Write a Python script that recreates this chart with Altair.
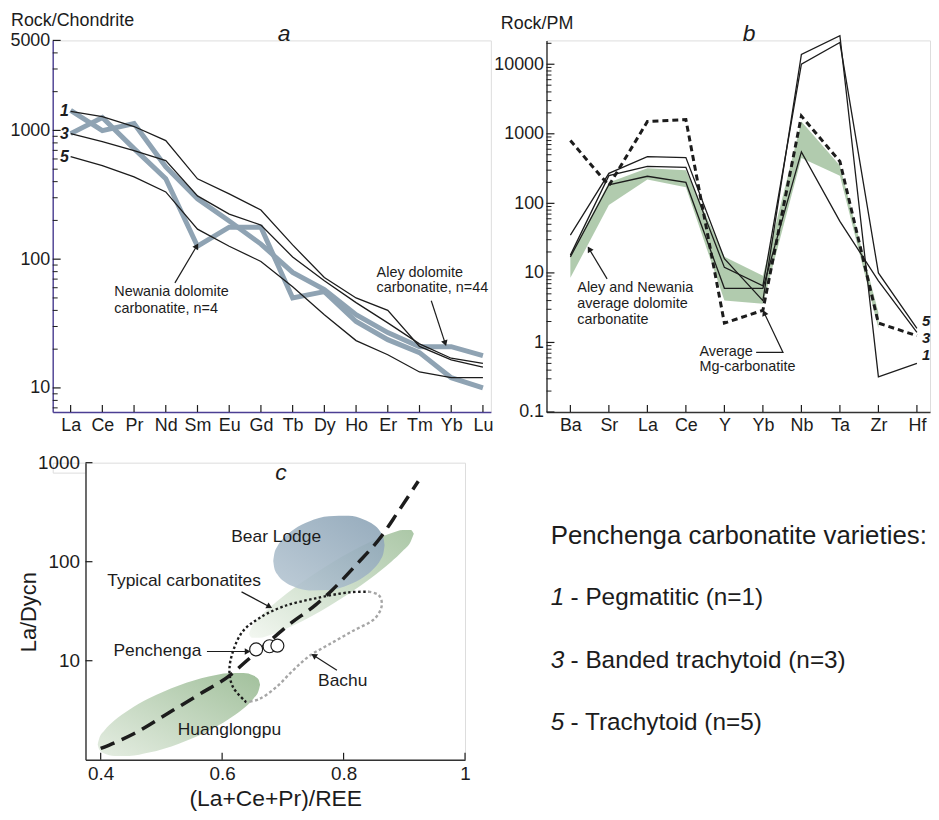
import altair as alt
import pandas as pd

FONT = "Liberation Sans"
INK = "#1c1c1c"
PURPLE = "#4b3f93"

# ------------------------------------------------------------------ panel a (Rock/Chondrite)
ree = ["La", "Ce", "Pr", "Nd", "Sm", "Eu", "Gd", "Tb", "Dy", "Ho", "Er", "Tm", "Yb", "Lu"]
a_var1 = [1403, 1282, 1072, 833, 421, 321, 241, 129, 72, 50, 40, 21, 16.5, 14.5]
a_var3 = [944, 818, 696, 582, 310, 224, 184, 104, 68, 46, 32, 22, 17, 15.5]
a_var5 = [625, 532, 436, 333, 171, 126, 96, 61, 37, 23.3, 18.1, 13.3, 12.0, 12.0]
a_newania = [944, 1259, 722, 421, 126, 177, 177, 50, 56, 32.8, 23.7, 18.8, 12.0, 10.0]
a_aley = [1429, 997, 1130, 522, 294, 198, 131, 79, 58, 37, 26.9, 20.9, 20.9, 17.8]
a_y_labels = [10, 100, 1000, 5000]
a_y_minor = [7, 8, 9, 20, 30, 40, 50, 60, 70, 80, 90, 200, 300, 400, 500, 600, 700, 800, 900, 2000, 3000, 4000]

a_notes = [("Newania dolomite", 1.377, 55.8), ("carbonatite, n=4", 1.377, 41.3),
           ("Aley dolomite", 9.648, 78.2), ("carbonatite, n=44", 9.648, 60.0)]
a_arrows = [[(3.288, 65.5), (3.977, 126.5)], [(11.371, 47.5), (11.81, 22.2)]]
a_heads = [31, 162]
a_title = ("Rock/Chondrite", -1.881, 7130)
a_letter = ("a", 6.735, 5560)

# ------------------------------------------------------------------ panel b (Rock/PM)
pm = ["Ba", "Sr", "La", "Ce", "Y", "Yb", "Nb", "Ta", "Zr", "Hf"]
b_var1 = [35, 270, 470, 455, 16, 4, 13800, 25700, 0.32, 0.5]
b_var5 = [18, 250, 340, 330, 12, 6.5, 10000, 20500, 10, 1.6]
b_var3 = [17, 185, 245, 200, 6, 6, 550, 55, 7.7, 1.4]
b_mg_carb = [800, 180, 1500, 1600, 1.9, 2.9, 1800, 400, 1.9, 1.25]
b_band_lo = [8.5, 95, 220, 170, 4, 3.6, 450, 250, 1.6]
b_band_hi = [18, 200, 320, 300, 17, 9.1, 1500, 350, 2.7]
b_y_labels = [0.1, 1, 10, 100, 1000, 10000]
b_y_minor = [m * d for d in (0.1, 1, 10, 100, 1000) for m in range(2, 10)] + [20000]

b_notes = [("Aley and Newania", 0.18, 6.1), ("average dolomite", 0.18, 3.6), ("carbonatite", 0.18, 2.13),
           ("Average", 3.354, 0.72), ("Mg-carbonatite", 3.354, 0.44)]
b_arrows = [[(0.954, 8.2), (0.490, 22)], [(4.825, 0.72), (5.522, 0.72), (5.032, 2.68)]]
b_heads = [329, 335]
b_ends = [("5", 9.135, 2.0), ("3", 9.135, 1.14), ("1", 9.135, 0.65)]
b_title = ("Rock/PM", -1.807, 37300)
b_letter = ("b", 4.645, 26800)

# ------------------------------------------------------------------ panel c
c_trend_x = [0.400, 0.4545, 0.509, 0.563, 0.615, 0.640, 0.672, 0.710, 0.754, 0.781, 0.820, 0.863, 0.889, 0.923]
c_trend_y = [1.30, 1.83, 2.90, 4.60, 7.29, 9.93, 14.6, 23.1, 36.6, 51.6, 91.8, 183, 314, 650]
c_huang_x = [0.3951, 0.3979, 0.4061, 0.4224, 0.4470, 0.4797, 0.5288, 0.5779, 0.6106, 0.6351, 0.6515, 0.6597, 0.6625]
c_huang_hi = [1.427, 1.666, 1.977, 2.485, 3.197, 4.169, 5.630, 6.932, 7.479, 7.497, 7.075, 6.482, 5.735]
c_huang_lo = [1.427, 1.263, 1.157, 1.092, 1.094, 1.181, 1.454, 1.963, 2.561, 3.294, 4.140, 4.913, 5.735]
c_typ_x = [0.6441, 0.6490, 0.6621, 0.6818, 0.7145, 0.7472, 0.7799, 0.8127, 0.8454, 0.8781, 0.8977, 0.9108, 0.9157]
c_typ_hi = [18.63, 22.10, 27.66, 35.91, 52.08, 72.15, 96.96, 126.8, 160.1, 193.9, 209.3, 208.8, 191.2]
c_typ_lo = [18.63, 17.07, 17.03, 18.37, 22.26, 28.10, 36.75, 49.38, 68.41, 99.2, 128.8, 161.2, 191.2]
c_bear_x = [0.6842, 0.6859, 0.6908, 0.7022, 0.7186, 0.7431, 0.7759, 0.8086, 0.8331, 0.8495, 0.8609, 0.8658, 0.8675]
c_bear_hi = [101.8, 120.2, 142.3, 175.6, 213.2, 255.3, 288.5, 290.5, 267.3, 235.9, 199.3, 172.3, 146.6]
c_bear_lo = [101.8, 86.6, 74.8, 63.2, 55.8, 51.3, 51.7, 58.5, 70.0, 85.0, 104.9, 124.1, 146.6]
c_loop_black = [(0.640, 3.8), (0.618, 5.4), (0.612, 7.9), (0.618, 12.5), (0.634, 19.8), (0.661, 26.9),
                (0.700, 35.2), (0.754, 42.7), (0.809, 49.0), (0.841, 49.8)]
c_loop_gray = [(0.841, 49.8), (0.858, 46.0), (0.863, 36.6), (0.852, 26.9), (0.814, 19.8), (0.776, 14.6),
               (0.743, 11.1), (0.716, 7.9), (0.689, 5.4), (0.661, 4.1), (0.640, 3.8)]
c_pench_x = [0.656, 0.678, 0.691]
c_pench_y = [13.0, 14.0, 14.2]
c_x_labels = [0.4, 0.6, 0.8, 1.0]
c_y_labels = [10, 100, 1000]
c_center_notes = [("Bear Lodge", 0.689, 177), ("Huanglongpu", 0.612, 2.0)]
c_left_notes = [("Typical carbonatites", 0.411, 64), ("Penchenga", 0.421, 12.4), ("Bachu", 0.758, 6.2)]
c_arrows = [[(0.632, 49.6), (0.678, 35.1)], [(0.575, 12.4), (0.642, 12.4)], [(0.789, 8.0), (0.751, 11.3)]]
c_heads = [118, 90, 303]
c_letter = ("c", 0.697, 794)
legend_head = ("Penchenga carbonatite varieties:", 1.141, 180)
legend_nums = [("1", 1.141, 42.5), ("3", 1.141, 9.9), ("5", 1.141, 2.35)]
legend_items = [("- Pegmatitic (n=1)", 1.141, 42.5), ("- Banded trachytoid (n=3)", 1.141, 9.9),
                ("- Trachytoid (n=5)", 1.141, 2.35)]


# ------------------------------------------------------------------ helpers
def series_df(names, series):
    rows = []
    for key, vals in series.items():
        for i, (n, v) in enumerate(zip(names, vals)):
            rows.append({"s": key, "el": n, "i": i, "v": v})
    return pd.DataFrame(rows)


def axis(values, expr, color, size, pad, **kw):
    return alt.Axis(values=values, labelExpr=expr, ticks=False, grid=False, domainColor=color,
                    domainWidth=1.4, labelFontSize=size, labelPadding=pad, labelColor=INK, labelFont=FONT,
                    labelOverlap=False, labelFlush=False, **kw)


def texts(rows, X, Y, **mk):
    df = pd.DataFrame(rows, columns=["t", "x", "y"])
    base = dict(font=FONT, color=INK, baseline="middle")
    base.update(mk)
    return alt.Chart(df).mark_text(**base).encode(x=X("x"), y=Y("y"), text="t:N")


def arrows(paths, heads, X, Y):
    rows, hrows = [], []
    for n, (pts, ang) in enumerate(zip(paths, heads)):
        for k, (x, y) in enumerate(pts):
            rows.append({"id": n, "k": k, "x": x, "y": y})
        hrows.append({"x": pts[-1][0], "y": pts[-1][1], "ang": ang})
    lines = alt.Chart(pd.DataFrame(rows)).mark_line(color=INK, strokeWidth=1.2).encode(
        x=X("x"), y=Y("y"), detail="id:N", order="k:Q")
    tips = alt.Chart(pd.DataFrame(hrows)).mark_point(shape="triangle-up", filled=True, size=45,
                                                    color=INK, opacity=1).encode(
        x=X("x"), y=Y("y"), angle=alt.Angle("ang:Q", scale=None))
    return [lines, tips]


def names_expr(names):
    return "[" + ",".join(f"'{n}'" for n in names) + "][datum.value]"


# ------------------------------------------------------------------ panel a
WA, HA = 441, 374
xa = alt.Scale(domain=[-0.565, 13.25], nice=False, zero=False)
ya = alt.Scale(type="log", domain=[6.5, 5000], nice=False)
ax_xa = axis(list(range(len(ree))), names_expr(ree), PURPLE, 18, 5, title=None)
ax_ya = axis(a_y_labels, "'' + datum.value", PURPLE, 18, 3, title=None)
XA = lambda f: alt.X(f"{f}:Q", scale=xa, axis=ax_xa)
YA = lambda f: alt.Y(f"{f}:Q", scale=ya, axis=ax_ya)

a_layers = [
    alt.Chart(series_df(ree, {"Newania": a_newania, "Aley": a_aley})).mark_line(
        color="#8fa3b3", strokeWidth=5).encode(x=XA("i"), y=YA("v"), detail="s:N"),
    alt.Chart(series_df(ree, {"1": a_var1, "3": a_var3, "5": a_var5})).mark_line(
        color=INK, strokeWidth=1.3).encode(x=XA("i"), y=YA("v"), detail="s:N"),
    alt.Chart(pd.DataFrame({"i": list(range(len(ree)))})).mark_rule(color=INK, strokeWidth=1.2).encode(
        x=XA("i"), y=alt.value(HA), y2=alt.value(HA - 7)),
    alt.Chart(pd.DataFrame({"v": a_y_labels})).mark_rule(color=INK, strokeWidth=1.2).encode(
        y=YA("v"), x=alt.value(0), x2=alt.value(8)),
    alt.Chart(pd.DataFrame({"v": a_y_minor})).mark_rule(color=INK, strokeWidth=1).encode(
        y=YA("v"), x=alt.value(0), x2=alt.value(5)),
    texts([("1", -0.06, a_var1[0]), ("3", -0.06, a_var3[0]), ("5", -0.06, a_var5[0])], XA, YA,
          align="right", fontSize=16, fontStyle="italic", fontWeight="bold"),
    texts(a_notes, XA, YA, align="left", fontSize=14.5),
    texts([a_title], XA, YA, align="left", fontSize=18),
    texts([a_letter], XA, YA, align="center", fontSize=23, fontStyle="italic"),
] + arrows(a_arrows, a_heads, XA, YA)
panel_a = alt.layer(*a_layers).properties(width=WA, height=HA)

# ------------------------------------------------------------------ panel b
WB, HB = 386, 374
xb = alt.Scale(domain=[-0.62, 9.34], nice=False, zero=False)
yb = alt.Scale(type="log", domain=[0.1, 22000], nice=False)
ax_xb = axis(list(range(len(pm))), names_expr(pm), "#333333", 18, 5, title=None)
ax_yb = axis(b_y_labels, "'' + datum.value", "#333333", 18, 3, title=None)
XB = lambda f: alt.X(f"{f}:Q", scale=xb, axis=ax_xb)
YB = lambda f: alt.Y(f"{f}:Q", scale=yb, axis=ax_yb)

band_df = pd.DataFrame({"i": list(range(len(b_band_lo))), "lo": b_band_lo, "hi": b_band_hi})
b_layers = [
    alt.Chart(band_df).mark_area(color="#a3c2a0", opacity=0.85).encode(
        x=XB("i"), y=YB("lo"), y2="hi:Q"),
    alt.Chart(series_df(pm, {"mg": b_mg_carb})).mark_line(
        color=INK, strokeWidth=3, strokeDash=[6, 4]).encode(x=XB("i"), y=YB("v")),
    alt.Chart(series_df(pm, {"1": b_var1, "3": b_var3, "5": b_var5})).mark_line(
        color=INK, strokeWidth=1.3).encode(x=XB("i"), y=YB("v"), detail="s:N"),
    alt.Chart(pd.DataFrame({"i": list(range(len(pm)))})).mark_rule(color=INK, strokeWidth=1.2).encode(
        x=XB("i"), y=alt.value(HB), y2=alt.value(HB - 7)),
    alt.Chart(pd.DataFrame({"v": b_y_labels})).mark_rule(color=INK, strokeWidth=1.2).encode(
        y=YB("v"), x=alt.value(0), x2=alt.value(8)),
    alt.Chart(pd.DataFrame({"v": b_y_minor})).mark_rule(color=INK, strokeWidth=1).encode(
        y=YB("v"), x=alt.value(0), x2=alt.value(5)),
    texts(b_notes, XB, YB, align="left", fontSize=14.5),
    texts(b_ends, XB, YB, align="left", fontSize=15, fontStyle="italic", fontWeight="bold"),
    texts([b_title], XB, YB, align="left", fontSize=18),
    texts([b_letter], XB, YB, align="center", fontSize=23, fontStyle="italic"),
] + arrows(b_arrows, b_heads, XB, YB)
panel_b = alt.layer(*b_layers).properties(width=WB, height=HB)

# ------------------------------------------------------------------ panel c
WC, HC = 382, 299
xc = alt.Scale(domain=[0.375, 1.0], nice=False, zero=False)
yc = alt.Scale(type="log", domain=[1, 1000], nice=False)
ax_xc = axis(c_x_labels, "'' + datum.value", "#333333", 19, 5, title="(La+Ce+Pr)/REE",
             titleFontSize=23, titleFont=FONT, titleFontWeight="normal", titleColor=INK, titlePadding=4)
ax_yc = axis(c_y_labels, "'' + datum.value", "#333333", 19, 6, title="La/Dycn",
             titleFontSize=22, titleFont=FONT, titleFontWeight="normal", titleColor=INK,
             titleX=-57, titleY=150, titleAngle=270, titleAlign="center", titleBaseline="middle")
XC = lambda f: alt.X(f"{f}:Q", scale=xc, axis=ax_xc)
YC = lambda f: alt.Y(f"{f}:Q", scale=yc, axis=ax_yc)


def blob(xs, lo, hi, c0, c1, op):
    df = pd.DataFrame({"x": xs, "lo": lo, "hi": hi})
    grad = alt.Gradient(gradient="linear", x1=0, y1=1, x2=1, y2=0,
                        stops=[alt.GradientStop(color=c0, offset=0), alt.GradientStop(color=c1, offset=1)])
    return alt.Chart(df).mark_area(color=grad, opacity=op, interpolate="monotone").encode(
        x=XC("x"), y=YC("lo"), y2="hi:Q")


loop_rows = [{"x": x, "y": y, "k": k} for k, (x, y) in enumerate(c_loop_black)]
gray_rows = [{"x": x, "y": y, "k": k} for k, (x, y) in enumerate(c_loop_gray)]

c_layers = [
    blob(c_huang_x, c_huang_lo, c_huang_hi, "#e3ece0", "#9dbd97", 0.95),
    blob(c_typ_x, c_typ_lo, c_typ_hi, "#f1f6ef", "#a2c19d", 0.9),
    blob(c_bear_x, c_bear_lo, c_bear_hi, "#b7c7d3", "#8aa2b5", 0.9),
    alt.Chart(pd.DataFrame(loop_rows)).mark_line(color=INK, strokeWidth=2.4, strokeDash=[2.5, 2.5],
                                                 interpolate="catmull-rom").encode(
        x=XC("x"), y=YC("y"), order="k:Q"),
    alt.Chart(pd.DataFrame(gray_rows)).mark_line(color="#a6a6a6", strokeWidth=2.4, strokeDash=[3, 2.5],
                                                 interpolate="catmull-rom").encode(
        x=XC("x"), y=YC("y"), order="k:Q"),
    alt.Chart(pd.DataFrame({"x": c_trend_x, "y": c_trend_y})).mark_line(
        color=INK, strokeWidth=3.5, strokeDash=[15, 8], interpolate="monotone").encode(x=XC("x"), y=YC("y")),
    alt.Chart(pd.DataFrame({"x": c_pench_x, "y": c_pench_y})).mark_point(
        shape="circle", size=170, filled=True, fill="white", stroke=INK, strokeWidth=1.2, opacity=1).encode(
        x=XC("x"), y=YC("y")),
    alt.Chart(pd.DataFrame({"x": c_x_labels})).mark_rule(color=INK, strokeWidth=1.2).encode(
        x=XC("x"), y=alt.value(HC), y2=alt.value(HC - 7)),
    alt.Chart(pd.DataFrame({"y": c_y_labels})).mark_rule(color=INK, strokeWidth=1.2).encode(
        y=YC("y"), x=alt.value(0), x2=alt.value(7)),
    texts(c_center_notes, XC, YC, align="center", fontSize=17.5),
    texts(c_left_notes, XC, YC, align="left", fontSize=17.5),
    texts([c_letter], XC, YC, align="center", fontSize=23, fontStyle="italic"),
    texts([legend_head], XC, YC, align="left", fontSize=26),
    texts(legend_nums, XC, YC, align="left", fontSize=24.5, fontStyle="italic"),
    texts(legend_items, XC, YC, align="left", fontSize=24.5, dx=20),
] + arrows(c_arrows, c_heads, XC, YC)
panel_c = alt.layer(*c_layers).properties(width=WC, height=HC)

spacer = alt.Chart(pd.DataFrame({"s": [0]})).mark_point(opacity=0).encode(
    x=alt.value(0), y=alt.value(0)).properties(width=33, height=10)

top = alt.hconcat(panel_a, panel_b, spacing=56, bounds="flush")
bottom = alt.hconcat(spacer, panel_c, spacing=0, bounds="flush")
chart = alt.vconcat(top, bottom, spacing=17).properties(
    padding={"left": 1, "top": 0, "right": 0, "bottom": 5}
).configure_view(stroke=None).configure(font=FONT)

chart.save("out.html", embed_options={"renderer": "svg", "actions": False})
